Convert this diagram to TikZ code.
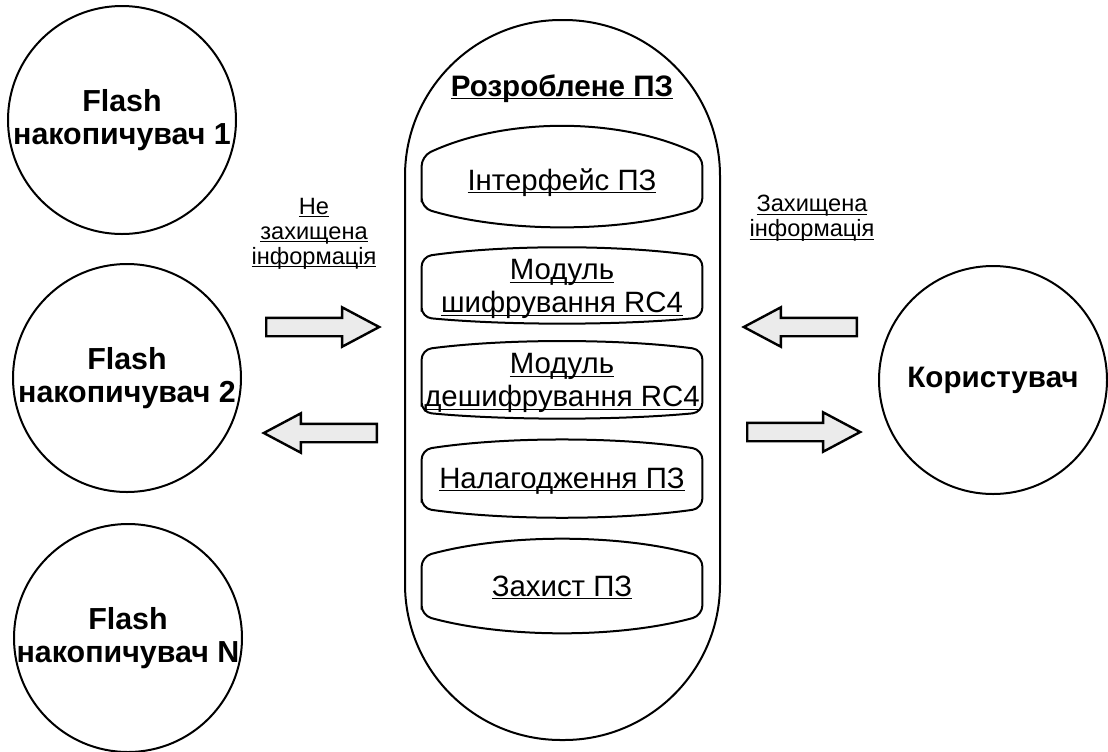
\documentclass[tikz,border=0pt]{standalone}
\usepackage{fontspec}
\setmainfont{Liberation Sans}
\usepackage{tikz}
\usetikzlibrary{shapes.arrows}

\newcommand{\uln}[1]{\underline{\smash{#1}}}

\begin{document}
\begin{tikzpicture}[x=0.5pt, y=-0.5pt,
    disk/.style={circle, draw, line width=1pt, minimum size=114pt, inner sep=0pt},
    disktext/.style={font=\fontsize{15.2}{16.5}\selectfont\bfseries, align=center},
    titletext/.style={font=\fontsize{14.8}{16.5}\selectfont\bfseries, align=center},
    modbox/.style={inner sep=0pt, minimum width=140pt},
    modtext/.style={font=\fontsize{14.7}{16.5}\selectfont, align=center, inner sep=0pt},
    infotext/.style={font=\fontsize{11.8}{12.5}\selectfont, align=center},
    outline/.style={line width=1pt, rounded corners=5pt},
    fatarrow/.style={single arrow, draw, line width=1.2pt, fill=black!8, inner xsep=0pt, inner ysep=4pt,
        single arrow head extend=5.25pt, single arrow tip angle=56, minimum height=56.5pt, anchor=tail}]

    \useasboundingbox (0,0) rectangle (1108,751);

    % Накопичувачі
    \node[disk, label={[disktext]center:Flash\\накопичувач 1}] (flash1) at (122,120) {};
    \node[disk, label={[disktext]center:Flash\\накопичувач 2}] (flash2) at (127,378) {};
    \node[disk, label={[disktext]center:Flash\\накопичувач N}] (flashN) at (128,638) {};

    % Користувач
    \node[disk, label={[titletext]center:Користувач}] (user) at (993,380) {};

    % Розроблене ПЗ
    \node[draw, line width=1pt, minimum width=157.5pt, minimum height=360pt, rounded corners=78pt] (soft) at (562.5,380) {};
    \node[titletext] (title) at (562,98) {\uln{Розроблене ПЗ}};

    % Модулі
    \node[modbox, minimum height=25.5pt] (iface) at (562,182) {};
    \node[modbox, minimum height=30pt] (enc) at (562,287) {};
    \node[modbox, minimum height=31pt] (dec) at (562,381) {};
    \node[modbox, minimum height=29pt] (debug) at (562,479) {};
    \node[modbox, minimum height=29pt] (protect) at (562,586) {};

    \foreach \boxname/\topb/\botb in {iface/39/25, enc/12/8, dec/11/8, debug/13/12, protect/23/23}
        \draw[outline] (\boxname.south west) -- (\boxname.north west)
            .. controls +(84,-\topb) and +(-84,-\topb) .. (\boxname.north east)
            -- (\boxname.south east)
            .. controls +(-84,\botb) and +(84,\botb) .. cycle;

    \node[modtext] (ifaceText) at (562,192) {\uln{Інтерфейс ПЗ}};
    \node[modtext] (encText) at (562,298) {\uln{Модуль}\\\uln{шифрування RC4}};
    \node[modtext] (decText) at (562,392) {\uln{Модуль}\\\uln{дешифрування RC4}};
    \node[modtext] (debugText) at (562,490) {\uln{Налагодження ПЗ}};
    \node[modtext] (protectText) at (562,598) {\uln{Захист ПЗ}};

    % Стрілки
    \node[fatarrow] (toSoft) at (265,327) {};
    \node[fatarrow, shape border rotate=180] (toFlash) at (378,433) {};
    \node[fatarrow, shape border rotate=180] (fromUser) at (858,327) {};
    \node[fatarrow] (toUser) at (746,432) {};

    % Підписи
    \node[infotext] (plain) at (314,241) {\uln{Не}\\\uln{захищена}\\\uln{інформація}};
    \node[infotext] (secure) at (812,226) {\uln{Захищена}\\\uln{інформація}};
\end{tikzpicture}
\end{document}
